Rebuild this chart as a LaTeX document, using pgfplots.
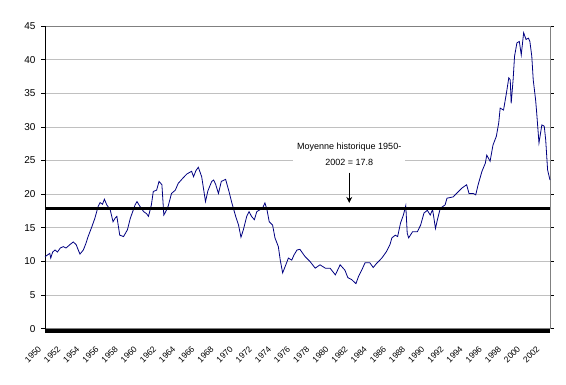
\documentclass[border=0pt]{standalone}
\usepackage{fontspec}
\setmainfont{Liberation Sans}
\usepackage{pgfplots}
\pgfplotsset{compat=1.18}
\usetikzlibrary{arrows.meta}
\definecolor{navyline}{RGB}{0,0,128}
\definecolor{gridgray}{RGB}{192,192,192}
\definecolor{bordergray}{RGB}{128,128,128}
\begin{document}
\begin{tikzpicture}
\begin{axis}[
  scale only axis, width=505pt, height=302.7pt,
  xmin=1950, xmax=2002.7, ymin=0, ymax=45,
  clip=false,
  axis line style={draw=bordergray, line width=0.8pt},
  ytick={0,5,...,45},
  ymajorgrids, grid style={draw=gridgray, line width=0.8pt},
  xtick={1950,1952,...,2002},
  xticklabel style={xshift=-7.5pt, yshift=-8pt, rotate=45, anchor=north east, font=\fontsize{8.5}{9}\selectfont, /pgf/number format/1000 sep={}},
  yticklabel style={font=\fontsize{10}{12}\selectfont, xshift=-2pt},
  /pgf/number format/assume math mode=true,
  tick align=outside,
  ytick style={draw=black, line width=0.8pt},
  xtick style={draw=none},
  major tick length=4pt,
]
\draw[black, line width=0.8pt] (rel axis cs:0,0) -- (rel axis cs:0,1);
\addplot[navyline, line width=0.8pt] coordinates {
(1950.0,10.7)(1950.3,11.0)(1950.5,11.2)(1950.6,10.5)(1950.8,11.4)(1951.05,11.7)(1951.3,11.4)(1951.6,12.0)(1951.9,12.2)(1952.2,12.0)(1952.6,12.5)(1952.95,12.9)(1953.25,12.5)(1953.5,11.6)(1953.65,11.1)(1954.0,11.7)(1954.25,12.6)(1954.5,13.7)(1954.9,15.2)(1955.2,16.4)(1955.55,18.2)(1955.75,18.75)(1956.0,18.5)(1956.2,19.25)(1956.45,18.4)(1956.8,17.7)(1957.1,15.9)(1957.3,16.4)(1957.5,16.7)(1957.8,13.9)(1958.2,13.7)(1958.6,14.7)(1958.9,16.4)(1959.4,18.4)(1959.6,18.9)(1959.9,18.2)(1960.3,17.4)(1960.6,17.1)(1960.8,16.7)(1961.1,18.4)(1961.3,20.4)(1961.65,20.6)(1961.9,21.9)(1962.2,21.4)(1962.4,16.9)(1962.6,17.4)(1962.85,18.2)(1963.2,20.1)(1963.6,20.6)(1963.9,21.6)(1964.4,22.4)(1964.8,23.0)(1965.3,23.4)(1965.5,22.6)(1965.75,23.5)(1966.0,24.0)(1966.35,22.6)(1966.5,21.2)(1966.75,18.9)(1967.0,20.5)(1967.4,21.9)(1967.6,22.1)(1967.8,21.5)(1968.1,20.1)(1968.4,21.9)(1968.85,22.2)(1969.2,20.4)(1969.5,18.7)(1969.9,16.7)(1970.2,15.4)(1970.45,13.6)(1970.7,14.7)(1971.05,16.7)(1971.3,17.4)(1971.55,16.7)(1971.85,16.2)(1972.1,17.4)(1972.45,17.7)(1972.7,17.9)(1972.95,18.7)(1973.15,17.8)(1973.4,15.9)(1973.75,15.4)(1974.0,13.5)(1974.35,12.2)(1974.55,10.2)(1974.8,8.3)(1975.05,9.2)(1975.4,10.5)(1975.75,10.2)(1976.0,11.0)(1976.3,11.7)(1976.6,11.8)(1976.9,11.2)(1977.15,10.7)(1977.65,10.0)(1978.2,9.0)(1978.7,9.5)(1979.25,9.0)(1979.75,9.0)(1980.3,8.0)(1980.8,9.5)(1981.3,8.7)(1981.6,7.6)(1982.0,7.3)(1982.45,6.7)(1982.7,7.7)(1983.05,8.7)(1983.4,9.8)(1983.9,9.8)(1984.25,9.1)(1984.6,9.7)(1985.15,10.5)(1985.65,11.5)(1986.0,12.5)(1986.2,13.5)(1986.55,13.9)(1986.8,13.7)(1987.1,15.7)(1987.4,16.9)(1987.65,18.3)(1987.8,14.2)(1987.95,13.5)(1988.35,14.4)(1988.85,14.4)(1989.2,15.4)(1989.55,17.2)(1989.9,17.6)(1990.2,16.9)(1990.45,17.7)(1990.75,14.9)(1990.95,16.2)(1991.25,17.9)(1991.75,18.4)(1991.95,19.4)(1992.6,19.6)(1993.15,20.4)(1993.5,20.9)(1994.0,21.4)(1994.25,20.1)(1994.7,20.1)(1994.95,19.9)(1995.2,21.4)(1995.6,23.4)(1995.95,24.6)(1996.1,25.8)(1996.45,24.9)(1996.75,27.3)(1997.1,28.6)(1997.35,30.6)(1997.5,32.8)(1997.85,32.5)(1998.15,35.0)(1998.4,37.3)(1998.55,37.0)(1998.65,33.5)(1998.85,37.0)(1999.0,40.5)(1999.25,42.5)(1999.5,42.7)(1999.7,40.7)(1999.95,44.0)(2000.2,43.0)(2000.45,43.2)(2000.6,42.7)(2000.8,40.5)(2000.95,37.0)(2001.2,34.0)(2001.3,32.3)(2001.55,27.6)(2001.85,30.3)(2002.1,30.1)(2002.25,28.1)(2002.45,23.6)(2002.7,22.1)
};
\addplot[black, line width=3pt] coordinates {(1950,17.8)(2002.7,17.8)};
\addplot[black, line width=4pt, yshift=-2pt] coordinates {(1950,0)(2002.7,0)};
\node[fill=white, align=center, font=\fontsize{9}{15.5}\selectfont, inner xsep=4pt, inner ysep=1pt] at (axis cs:1981.75,25.9) {Moyenne historique 1950-\\2002 = 17.8};
\draw[black, line width=0.8pt, -{Stealth[length=6pt,width=6pt]}] (axis cs:1981.75,23.2) -- (axis cs:1981.75,18.7);
\end{axis}
\path[use as bounding box] (-45pt,-55.3pt) rectangle (521pt,328.7pt);
\end{tikzpicture}
\end{document}
